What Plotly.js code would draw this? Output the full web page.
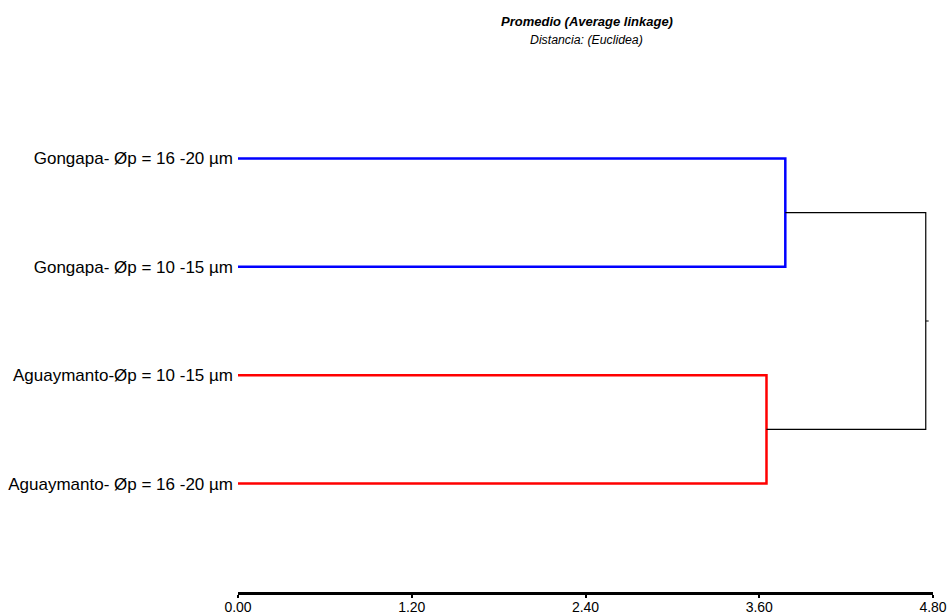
<!DOCTYPE html>
<html>
<head>
<meta charset="utf-8">
<script src="https://cdn.plot.ly/plotly-3.0.1.min.js"></script>
<style>html,body{margin:0;padding:0;background:#fff;}#chart{width:950px;height:616px;}</style>
</head>
<body>
<div id="chart"></div>
<script>
// Leaves, top to bottom
const leafLabels = [
  "Gongapa- Øp = 16 -20 µm",
  "Gongapa- Øp = 10 -15 µm",
  "Aguaymanto-Øp = 10 -15 µm",
  "Aguaymanto- Øp = 16 -20 µm"
];
const leafPos = [0, 1, 2, 3];
// Merge heights (Euclidean distance)
const gongapaMerge = 3.78;
const aguaymantoMerge = 3.65;
const rootMerge = 4.75;
const xTicks = [0, 1.2, 2.4, 3.6, 4.8];

const FONT = '"Liberation Sans", Arial, sans-serif';

function bracket(h, yA, yB) {
  return { x: [0, h, h, 0], y: [yA, yA, yB, yB] };
}
const gB = bracket(gongapaMerge, leafPos[0], leafPos[1]);
const aB = bracket(aguaymantoMerge, leafPos[2], leafPos[3]);
const gMid = (leafPos[0] + leafPos[1]) / 2;
const aMid = (leafPos[2] + leafPos[3]) / 2;
const rootMid = (gMid + aMid) / 2;

const traces = [
  { x: gB.x, y: gB.y, mode: 'lines', line: { color: '#0000ff', width: 2.5 }, hoverinfo: 'skip' },
  { x: aB.x, y: aB.y, mode: 'lines', line: { color: '#ff0000', width: 2.5 }, hoverinfo: 'skip' },
  { x: [gongapaMerge, rootMerge, rootMerge, aguaymantoMerge], y: [gMid, gMid, aMid, aMid],
    mode: 'lines', line: { color: '#000000', width: 1.2 }, hoverinfo: 'skip' },
  { x: [rootMerge, rootMerge + 0.02], y: [rootMid, rootMid], mode: 'lines',
    line: { color: '#000000', width: 1 }, hoverinfo: 'skip' }
];

const layout = {
  width: 950, height: 616,
  margin: { l: 238, r: 16.5, t: 50, b: 24 },
  paper_bgcolor: '#ffffff', plot_bgcolor: '#ffffff',
  showlegend: false,
  font: { family: FONT, color: '#000' },
  xaxis: {
    range: [0, 4.8],
    tickvals: xTicks,
    ticktext: xTicks.map(v => v.toFixed(2)),
    showgrid: false, zeroline: false,
    showline: true, linecolor: '#000', linewidth: 3,
    ticks: 'outside', ticklen: 3, tickwidth: 2, tickcolor: '#000',
    ticklabelstandoff: -3,
    tickfont: { family: FONT, size: 14, color: '#000' }
  },
  yaxis: {
    range: [4.0, -1.0],
    tickvals: leafPos,
    ticktext: leafLabels,
    showgrid: false, zeroline: false, showline: false,
    ticks: '',
    ticklabelstandoff: 4,
    tickfont: { family: FONT, size: 17, color: '#000' }
  },
  annotations: [
    { text: '<b><i>Promedio (Average linkage)</i></b>', xref: 'paper', yref: 'paper',
      x: 0.502, y: 1.0517, xanchor: 'center', yanchor: 'middle', showarrow: false,
      font: { family: FONT, size: 13, color: '#000' } },
    { text: '<i>Distancia: (Euclidea)</i>', xref: 'paper', yref: 'paper',
      x: 0.502, y: 1.0185, xanchor: 'center', yanchor: 'middle', showarrow: false,
      font: { family: FONT, size: 12.3, color: '#000' } }
  ]
};

Plotly.newPlot('chart', traces, layout, { displayModeBar: false, staticPlot: true });
</script>
</body>
</html>
